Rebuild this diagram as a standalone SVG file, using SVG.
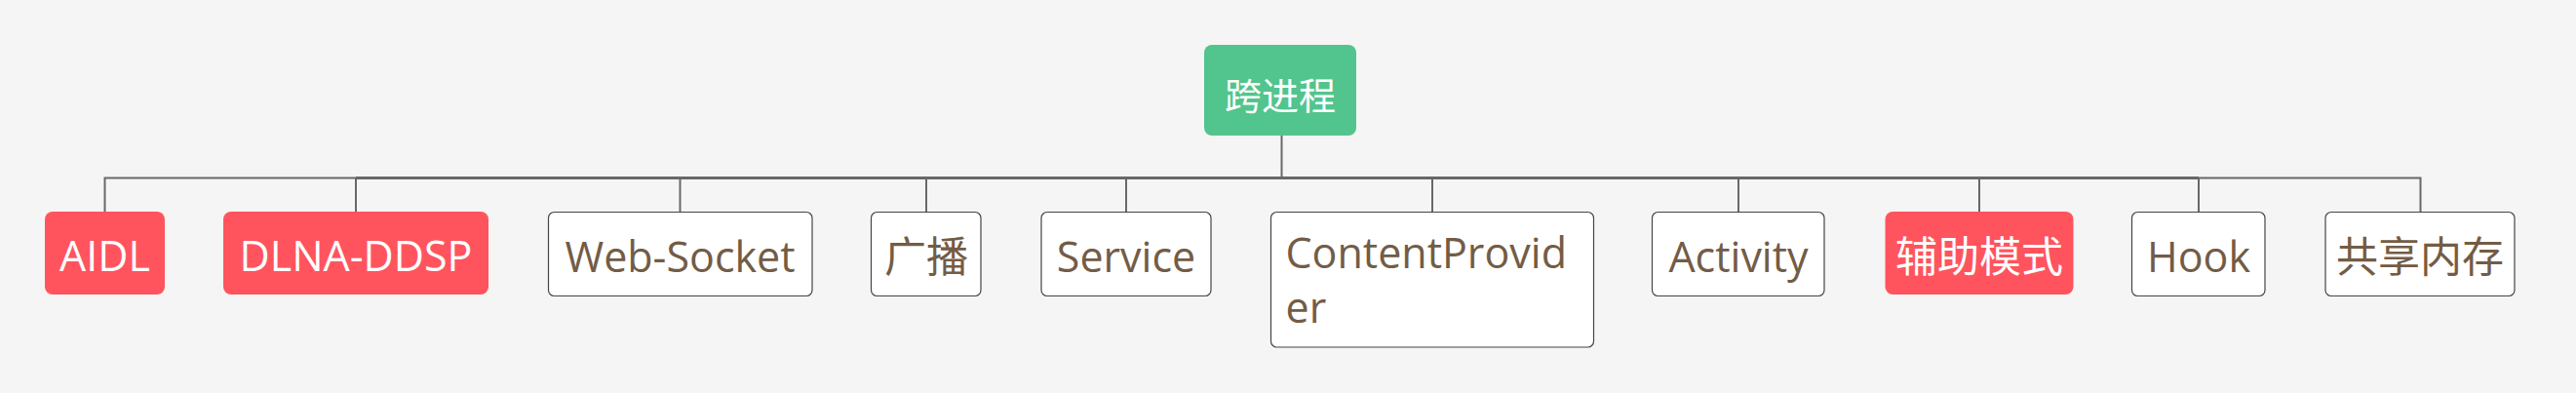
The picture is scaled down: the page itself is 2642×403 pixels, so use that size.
<svg xmlns="http://www.w3.org/2000/svg" width="2642" height="403" viewBox="0 0 2642 403">
<style>
.bg{fill:#f5f5f5}
.root{fill:#52c48d}
.red{fill:#ff545e}
.white{fill:#ffffff;stroke:#454545;stroke-width:1.2}
.line{fill:none;stroke:#686868;stroke-width:2}
.thick{fill:none;stroke:#686868;stroke-width:3}
text{font-family:"Open Sans","Noto Sans CJK SC",sans-serif;font-size:43px}
.rt{font-size:38px;fill:#ffffff;text-anchor:middle}
.wt{fill:#ffffff;text-anchor:middle}
.bt{fill:#735c46;text-anchor:middle}
.lt{fill:#735c46}
</style>
<rect class="bg" x="0" y="0" width="2642" height="403"/>
<g id="connectors">
<path class="line" d="M1314.5 139 V182.5"/>
<path class="line" d="M107.5 217 V182.5 H2482.5 V217"/>
<path class="thick" d="M365 182.5 H2255"/>
<path class="line" d="M365 182.5 V217"/>
<path class="line" d="M697.5 182.5 V217"/>
<path class="line" d="M950 182.5 V217"/>
<path class="line" d="M1155 182.5 V217"/>
<path class="line" d="M1469 182.5 V217"/>
<path class="line" d="M1783 182.5 V217"/>
<path class="line" d="M2030 182.5 V217"/>
<path class="line" d="M2255 182.5 V217"/>
</g>
<g id="root">
<rect class="root" x="1235" y="46" width="156" height="93" rx="8"/>
<text class="rt" x="1313" y="111.5">跨进程</text>
</g>
<g id="aidl">
<rect class="red" x="46" y="217" width="123" height="85" rx="8"/>
<text class="wt" x="107.5" y="278">AIDL</text>
</g>
<g id="dlna">
<rect class="red" x="229" y="217" width="272" height="85" rx="8"/>
<text class="wt" x="365" y="278">DLNA-DDSP</text>
</g>
<g id="websocket">
<rect class="white" x="562.5" y="217.5" width="270.5" height="86" rx="6"/>
<text class="bt" x="697.5" y="279">Web-Socket</text>
</g>
<g id="guangbo">
<rect class="white" x="893.5" y="217.5" width="112.5" height="86" rx="6"/>
<text class="bt" x="950" y="279">广播</text>
</g>
<g id="service">
<rect class="white" x="1068" y="217.5" width="174" height="86" rx="6"/>
<text class="bt" x="1155" y="279">Service</text>
</g>
<g id="contentprovider">
<rect class="white" x="1303.5" y="217.5" width="331" height="138.5" rx="6"/>
<text class="lt" x="1318.5" y="275">ContentProvid</text>
<text class="lt" x="1318.5" y="331">er</text>
</g>
<g id="activity">
<rect class="white" x="1694.5" y="217.5" width="176.5" height="86" rx="6"/>
<text class="bt" x="1783" y="279">Activity</text>
</g>
<g id="fuzhu">
<rect class="red" x="1933.5" y="217" width="193" height="85" rx="8"/>
<text class="wt" x="2030" y="279">辅助模式</text>
</g>
<g id="hook">
<rect class="white" x="2186.5" y="217.5" width="136.5" height="86" rx="6"/>
<text class="bt" x="2255" y="279">Hook</text>
</g>
<g id="gongxiang">
<rect class="white" x="2385" y="217.5" width="194" height="86" rx="6"/>
<text class="bt" x="2482" y="279">共享内存</text>
</g>
</svg>
